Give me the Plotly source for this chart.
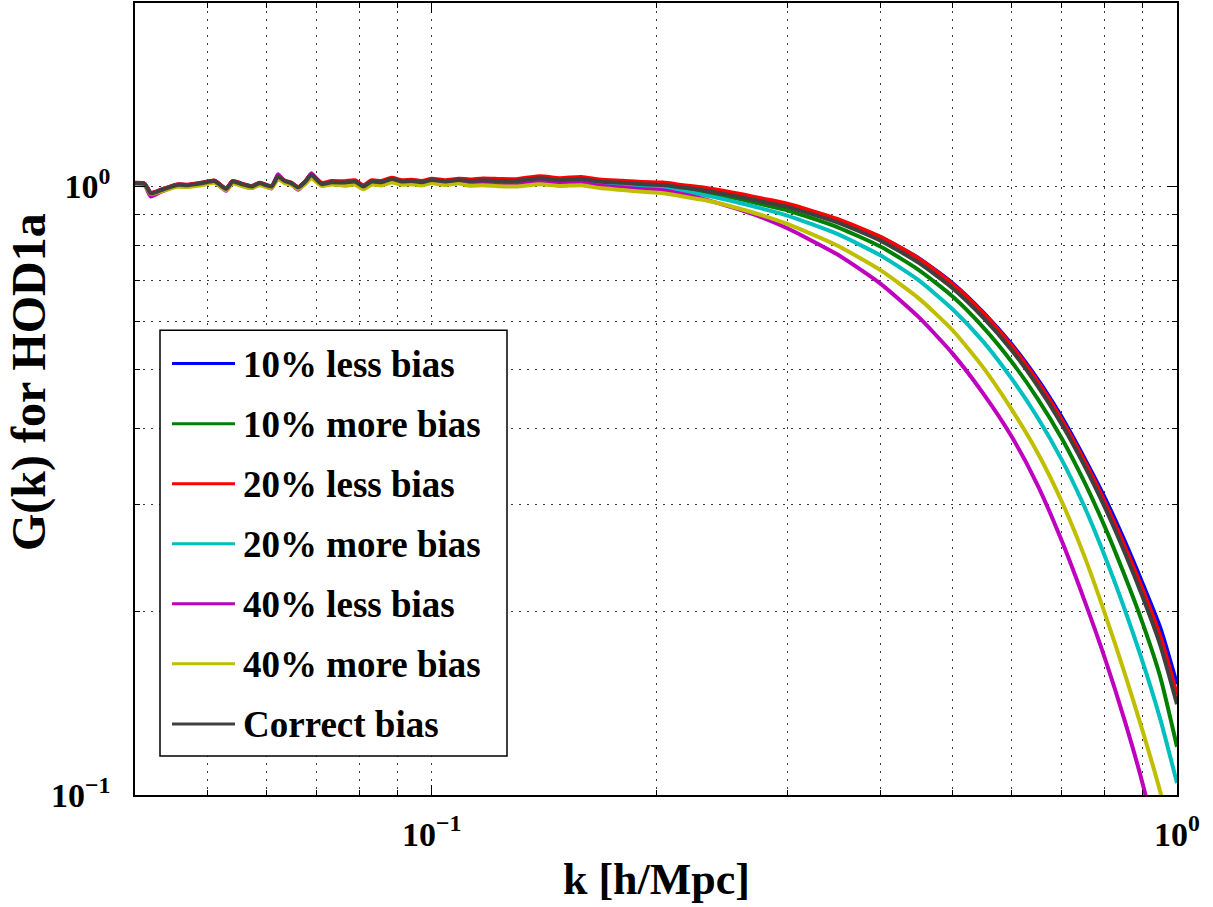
import plotly.graph_objects as go
import math

# ---------------- data ----------------
K = [0.0400, 0.0412, 0.0420, 0.0434, 0.0456, 0.0470, 0.0491, 0.0511, 0.0530, 0.0541,
     0.0556, 0.0573, 0.0588, 0.0610, 0.0622, 0.0635, 0.0649, 0.0662, 0.0676, 0.0690,
     0.0712, 0.0734, 0.0765, 0.0789, 0.0810, 0.0831, 0.0857, 0.0884, 0.0912, 0.0941,
     0.0970, 0.1001, 0.1043, 0.1087,
     0.1125, 0.1172, 0.1234, 0.1299, 0.1396, 0.1485, 0.1588, 0.1681, 0.1806, 0.1921,
     0.2043, 0.2175, 0.2313, 0.2460, 0.2618, 0.2784,
     0.30, 0.35, 0.40, 0.45, 0.50, 0.55, 0.60, 0.65, 0.70, 0.75, 0.80, 0.85, 0.90, 0.95, 1.00]

G_10_LESS = [1.012, 1.009, 0.975, 0.987, 1.006, 1.005, 1.012, 1.021, 0.991, 1.019,
             1.009, 1.000, 1.012, 1.000, 1.038, 1.021, 1.012, 0.996, 1.016, 1.044,
             1.009, 1.016, 1.015, 1.019, 1.000, 1.019, 1.016, 1.029, 1.019, 1.021,
             1.016, 1.025, 1.019, 1.025,
             1.022, 1.026, 1.023, 1.023, 1.034, 1.026, 1.031, 1.021, 1.016, 1.011,
             1.009, 0.999, 0.989, 0.976, 0.962, 0.947,
             0.930, 0.880, 0.825, 0.762, 0.693, 0.620, 0.550, 0.482, 0.418, 0.359,
             0.308, 0.262, 0.222, 0.188, 0.152]

G_10_MORE = [1.010, 1.007, 0.973, 0.985, 1.004, 1.003, 1.010, 1.019, 0.989, 1.017,
             1.007, 0.998, 1.010, 0.998, 1.036, 1.019, 1.010, 0.994, 1.014, 1.042,
             1.007, 1.014, 1.013, 1.017, 0.998, 1.017, 1.014, 1.027, 1.017, 1.019,
             1.014, 1.023, 1.017, 1.023,
             1.019, 1.021, 1.018, 1.018, 1.028, 1.021, 1.025, 1.015, 1.009, 1.003,
             0.999, 0.989, 0.978, 0.965, 0.950, 0.933,
             0.913, 0.857, 0.796, 0.729, 0.659, 0.586, 0.515, 0.448, 0.386, 0.328,
             0.276, 0.230, 0.191, 0.156, 0.120]

G_20_LESS = [1.013, 1.010, 0.976, 0.988, 1.007, 1.006, 1.013, 1.022, 0.992, 1.020,
             1.010, 1.001, 1.013, 1.001, 1.039, 1.022, 1.013, 0.997, 1.017, 1.045,
             1.013, 1.020, 1.019, 1.023, 1.004, 1.023, 1.020, 1.033, 1.023, 1.025,
             1.020, 1.029, 1.023, 1.029,
             1.026, 1.030, 1.028, 1.027, 1.039, 1.031, 1.036, 1.026, 1.021, 1.016,
             1.014, 1.004, 0.995, 0.983, 0.969, 0.954,
             0.936, 0.884, 0.826, 0.761, 0.691, 0.618, 0.547, 0.478, 0.414, 0.355,
             0.303, 0.257, 0.217, 0.182, 0.146]

G_20_MORE = [1.009, 1.006, 0.972, 0.984, 1.003, 1.002, 1.009, 1.018, 0.988, 1.016,
             1.006, 0.997, 1.009, 0.997, 1.035, 1.018, 1.009, 0.993, 1.013, 1.041,
             1.005, 1.012, 1.011, 1.015, 0.996, 1.015, 1.012, 1.025, 1.015, 1.017,
             1.012, 1.021, 1.015, 1.021,
             1.017, 1.019, 1.016, 1.015, 1.025, 1.017, 1.020, 1.009, 1.002, 0.996,
             0.993, 0.981, 0.968, 0.953, 0.936, 0.918,
             0.895, 0.835, 0.770, 0.701, 0.628, 0.555, 0.483, 0.417, 0.356, 0.299,
             0.247, 0.2025, 0.165, 0.133, 0.1046]

G_40_LESS = [1.008, 1.004, 0.962, 0.980, 1.002, 1.001, 1.008, 1.018, 0.983, 1.016,
             1.004, 0.993, 1.008, 0.992, 1.046, 1.018, 1.008, 0.987, 1.012, 1.050,
             1.003, 1.010, 1.009, 1.013, 0.991, 1.011, 1.008, 1.020, 1.010, 1.012,
             1.007, 1.015, 1.009, 1.014,
             1.010, 1.013, 1.009, 1.009, 1.019, 1.011, 1.014, 1.002, 0.995, 0.989,
             0.985, 0.970, 0.953, 0.933, 0.911, 0.887,
             0.853, 0.773, 0.692, 0.610, 0.531, 0.456, 0.388, 0.323, 0.262, 0.210,
             0.168, 0.133, 0.104, 0.078, 0.057]

G_40_MORE = [1.004, 1.002, 0.972, 0.981, 0.998, 0.997, 1.004, 1.012, 0.986, 1.010,
             1.001, 0.993, 1.004, 0.993, 1.026, 1.012, 1.004, 0.990, 1.007, 1.030,
             1.001, 1.007, 1.002, 1.006, 0.989, 1.006, 1.003, 1.014, 1.006, 1.008,
             1.003, 1.011, 1.005, 1.010,
             1.002, 1.004, 1.000, 0.999, 1.008, 1.001, 1.004, 0.993, 0.986, 0.979,
             0.974, 0.962, 0.950, 0.934, 0.915, 0.895,
             0.867, 0.799, 0.728, 0.655, 0.580, 0.503, 0.430, 0.365, 0.304, 0.248,
             0.199, 0.159, 0.127, 0.101, 0.078]

G_CORRECT = [1.011, 1.008, 0.974, 0.986, 1.005, 1.004, 1.011, 1.020, 0.990, 1.018,
             1.008, 0.999, 1.011, 0.999, 1.037, 1.020, 1.011, 0.995, 1.015, 1.043,
             1.008, 1.015, 1.014, 1.018, 0.999, 1.018, 1.015, 1.028, 1.018, 1.020,
             1.015, 1.024, 1.018, 1.024,
             1.020, 1.023, 1.020, 1.020, 1.031, 1.023, 1.028, 1.018, 1.013, 1.008,
             1.005, 0.995, 0.985, 0.972, 0.958, 0.943,
             0.925, 0.872, 0.814, 0.749, 0.680, 0.608, 0.538, 0.470, 0.407, 0.349,
             0.297, 0.251, 0.211, 0.176, 0.141]

SERIES_NAMES = ["10% less bias", "10% more bias", "20% less bias", "20% more bias",
                "40% less bias", "40% more bias", "Correct bias"]
SERIES_VALUES = [G_10_LESS, G_10_MORE, G_20_LESS, G_20_MORE, G_40_LESS, G_40_MORE, G_CORRECT]
COLORS = ["#0000FF", "#008000", "#FF0000", "#00BFBF", "#BF00BF", "#BFBF00", "#404040"]

X_TICK_VALS = [0.1, 1]
X_TICK_TEXT = ["10<sup>\u22121</sup>", "10<sup>0</sup>"]
Y_TICK_VALS = [0.1, 1]
Y_TICK_TEXT = ["10<sup>\u22121</sup>", "10<sup>0</sup>"]
X_MINOR = [0.05, 0.06, 0.07, 0.08, 0.09, 0.2, 0.3, 0.4, 0.5, 0.6, 0.7, 0.8, 0.9]
Y_MINOR = [0.2, 0.3, 0.4, 0.5, 0.6, 0.7, 0.8, 0.9, 2.0]
X_LABEL = "k [h/Mpc]"
Y_LABEL = "G(k) for HOD1a"

# ---------------- layout geometry ----------------
W, H = 1213, 907
ML, MR, MT, MB = 135, 36, 1, 112
PL, PR, PT, PB = ML, W - MR, MT, H - MB


def px(xp):
    return (xp - PL) / (PR - PL)


def py(yp):
    return (PB - yp) / (PB - PT)


FONT = "Liberation Serif, Times New Roman, serif"
GRID = "#3a3a3a"
DOT = "1.5px,6.5px"

fig = go.Figure()
for name, vals, col in zip(SERIES_NAMES, SERIES_VALUES, COLORS):
    fig.add_trace(go.Scatter(x=K, y=vals, mode="lines", name=name,
                             line=dict(color=col, width=4, shape="spline", smoothing=0.6),
                             showlegend=False, hoverinfo="skip"))

axis_common = dict(
    type="log", showline=True, linecolor="black", linewidth=1.5, mirror="allticks",
    ticks="inside", ticklen=10, tickwidth=1, tickcolor="black",
    showgrid=True, gridcolor=GRID, gridwidth=1, griddash=DOT,
    tickmode="array", zeroline=False,
    tickfont=dict(family=FONT, size=34, color="black", weight="bold"),
)

fig.update_layout(
    width=W, height=H,
    margin=dict(l=ML, r=MR, t=MT, b=MB),
    paper_bgcolor="white", plot_bgcolor="white",
    showlegend=False,
    xaxis=dict(axis_common, range=[math.log10(0.04), 0],
               tickvals=X_TICK_VALS, ticktext=X_TICK_TEXT, ticklabelstandoff=8,
               minor=dict(tickmode="array", tickvals=X_MINOR, ticks="inside", ticklen=5,
                          tickcolor="black", showgrid=True, gridcolor=GRID,
                          gridwidth=1, griddash=DOT)),
    yaxis=dict(axis_common, range=[-1, math.log10(2.0)],
               tickvals=Y_TICK_VALS, ticktext=Y_TICK_TEXT, ticklabelstandoff=16,
               minor=dict(tickmode="array", tickvals=Y_MINOR, ticks="inside", ticklen=5,
                          tickcolor="black", showgrid=True, gridcolor=GRID,
                          gridwidth=1, griddash=DOT)),
)

annotations = [
    dict(text=X_LABEL, xref="paper", yref="paper", x=0.5, y=py(880),
         xanchor="center", yanchor="middle", showarrow=False,
         font=dict(family=FONT, size=44, color="black", weight="bold")),
    dict(text=Y_LABEL, xref="paper", yref="paper", x=px(29), y=py(381),
         xanchor="center", yanchor="middle", showarrow=False, textangle=-90,
         font=dict(family=FONT, size=48, color="black", weight="bold")),
]

# ---------------- legend box (drawn manually to match the MATLAB style) ----------------
LEG_X0, LEG_X1, LEG_Y0, LEG_Y1 = 160, 507, 329, 756
ROW0, ROW_STEP = 362.5, 60.2
shapes = [dict(type="rect", xref="paper", yref="paper", layer="above",
               x0=px(LEG_X0), x1=px(LEG_X1), y0=py(LEG_Y1), y1=py(LEG_Y0),
               line=dict(color="black", width=1.5), fillcolor="white")]
for i, (name, col) in enumerate(zip(SERIES_NAMES, COLORS)):
    yc = ROW0 + i * ROW_STEP
    shapes.append(dict(type="line", xref="paper", yref="paper", layer="above",
                       x0=px(172), x1=px(235), y0=py(yc), y1=py(yc),
                       line=dict(color=col, width=3)))
    annotations.append(dict(text=name, xref="paper", yref="paper", x=px(241), y=py(yc + 1),
                            xanchor="left", yanchor="middle", showarrow=False,
                            font=dict(family=FONT, size=37, color="black", weight="bold")))

fig.update_layout(shapes=shapes, annotations=annotations)
fig.write_html("out.html", config={"displayModeBar": False},
               post_script="document.body.style.margin='0';document.body.style.overflow='hidden';")
